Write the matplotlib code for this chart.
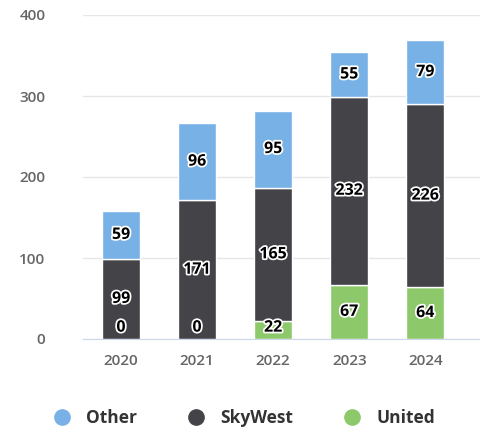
import matplotlib
matplotlib.use("Agg")
import matplotlib.pyplot as plt
import matplotlib.patheffects as pe
from matplotlib.lines import Line2D

years = ["2020", "2021", "2022", "2023", "2024"]
united = [0, 0, 22, 67, 64]
skywest = [99, 171, 165, 232, 226]
other = [59, 96, 95, 55, 79]

c_other = "#78b1e6"
c_sky = "#434348"
c_united = "#8dc96b"

plt.rcParams['font.family'] = ['Open Sans', 'DejaVu Sans']

fig = plt.figure(figsize=(4.8, 4.34), dpi=100)
ax = fig.add_axes([83/480, 95/434, 397/480, 324/434])

x = list(range(len(years)))
w = 0.5
ax.bar(x, united, w, color=c_united, edgecolor="white", linewidth=1, zorder=3)
ax.bar(x, skywest, w, bottom=united, color=c_sky, edgecolor="white", linewidth=1, zorder=3)
bottom3 = [u + s for u, s in zip(united, skywest)]
ax.bar(x, other, w, bottom=bottom3, color=c_other, edgecolor="white", linewidth=1, zorder=3)

outline = [pe.withStroke(linewidth=2.5, foreground="white")]
def label(xi, base, val):
    yc = base + val / 2
    if yc < 14:
        yc = 14
    ax.text(xi, yc, str(val), ha="center", va="center", fontsize=11.5,
            fontweight="bold", color="black", path_effects=outline, zorder=5)

for i in x:
    label(i, 0, united[i])
    label(i, united[i], skywest[i])
    label(i, bottom3[i], other[i])

ax.set_ylim(0, 400)
ax.set_xlim(-0.5, 4.72)
ax.set_yticks([0, 100, 200, 300, 400])
ax.set_xticks(x)
ax.set_xticklabels(years)
ax.tick_params(axis="y", length=0, pad=27, labelsize=11, labelcolor="#666666")
ax.tick_params(axis="x", length=0, pad=11, labelsize=11, labelcolor="#666666")
for lbl in ax.get_yticklabels() + ax.get_xticklabels():
    lbl.set_fontweight("semibold")
ax.grid(axis="y", color="#e6e6e6", linewidth=1, zorder=0)
for s in ["left", "right", "top"]:
    ax.spines[s].set_visible(False)
ax.spines["bottom"].set_color("#ccd6eb")
ax.spines["bottom"].set_zorder(4)

handles = [Line2D([], [], marker="o", linestyle="", markersize=11, color=c)
           for c in [c_other, c_sky, c_united]]
fig.legend(handles, ["Other", "SkyWest", "United"], loc="center",
           bbox_to_anchor=(0.5, 16/434), ncol=3, frameon=False,
           prop={"weight": "bold", "size": 12.5}, labelcolor="#333333",
           handletextpad=0.4, columnspacing=2.4)

fig.savefig("out.png", dpi=100)
